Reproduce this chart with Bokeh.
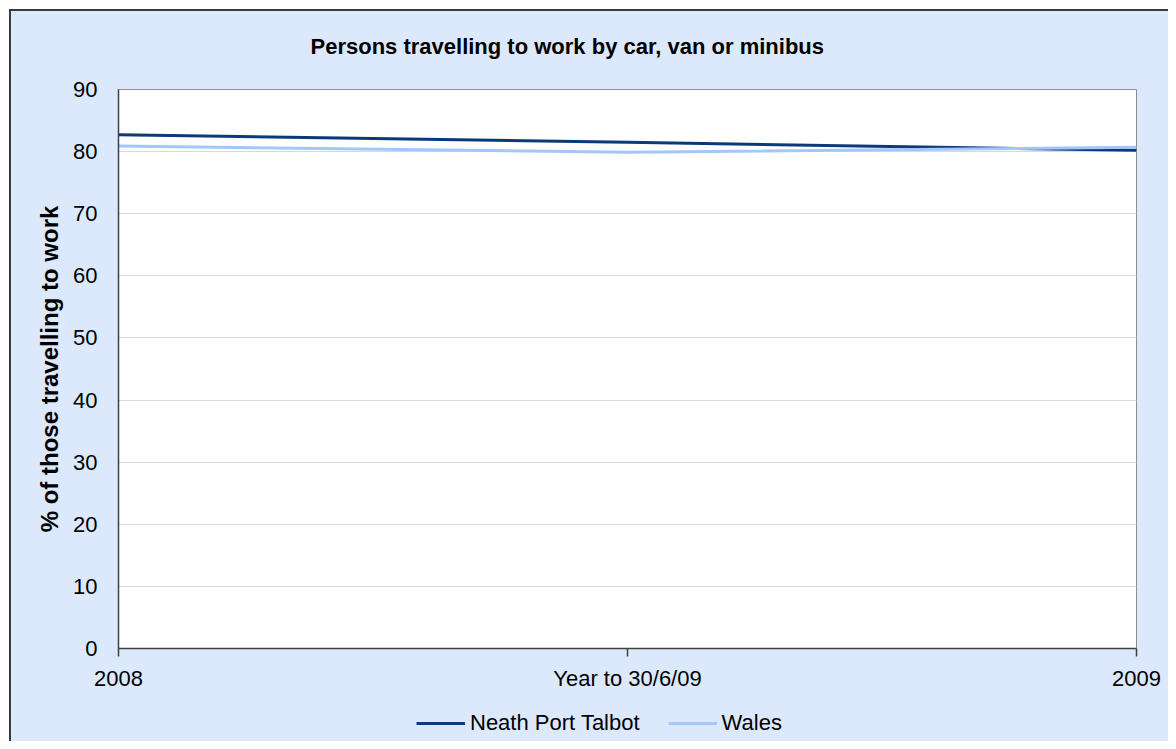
from bokeh.plotting import figure
from bokeh.models import Range1d, FixedTicker, Legend, LegendItem, Label
from bokeh.layouts import column
from bokeh.embed import file_html
from bokeh.resources import INLINE

categories = ["2008", "Year to 30/6/09", "2009"]
neath = [82.7, 81.5, 80.2]
wales = [80.9, 79.9, 80.7]
y_ticks = [0, 10, 20, 30, 40, 50, 60, 70, 80, 90]
series_names = ["Neath Port Talbot", "Wales"]
series_colors = ["#0b3a7a", "#a2c7fa"]
series_values = [neath, wales]

title_text = "Persons travelling to work by car, van or minibus"
y_label = "% of those travelling to work"

x = list(range(len(categories)))

BG = "#dce9fc"
FONT = "Liberation Sans"
W = 1157


def strip(height, xr, yr):
    f = figure(width=W, height=height, output_backend="svg", toolbar_location=None,
               x_axis_location=None, y_axis_location=None,
               x_range=Range1d(0, xr), y_range=Range1d(0, yr),
               min_border_left=0, min_border_right=0, min_border_top=0, min_border_bottom=0)
    f.background_fill_color = BG
    f.border_fill_color = BG
    f.outline_line_color = None
    f.xgrid.visible = False
    f.ygrid.visible = False
    return f


# title strip
tt = strip(64, 1018, 64)
tt.add_layout(Label(x=192, y=29, text=title_text, text_font=FONT, text_font_size="22px",
                    text_font_style="bold", text_color="#000000",
                    text_align="left", text_baseline="middle"))

# main chart
p = figure(width=W, height=618, output_backend="svg", toolbar_location=None,
           x_range=Range1d(0, len(categories) - 1), y_range=Range1d(0, 90),
           min_border_left=107, min_border_top=14, min_border_right=32, min_border_bottom=45)

p.background_fill_color = "white"
p.border_fill_color = BG
p.outline_line_color = "#8c8c8c"
p.outline_line_width = 1

p.xaxis.ticker = FixedTicker(ticks=x)
p.xaxis.major_label_overrides = {i: c for i, c in zip(x, categories)}
p.xaxis.major_tick_out = 8
p.xaxis.major_tick_in = 0
p.xaxis.minor_tick_out = 0
p.xaxis.minor_tick_in = 0
p.xaxis.major_label_standoff = 9
p.xaxis.axis_line_color = "#404040"
p.xaxis.axis_line_width = 1.5
p.xaxis.major_tick_line_color = "#404040"
p.xaxis.major_tick_line_width = 1.5

p.yaxis.ticker = FixedTicker(ticks=y_ticks)
p.yaxis.major_tick_out = 0
p.yaxis.major_tick_in = 0
p.yaxis.minor_tick_out = 0
p.yaxis.minor_tick_in = 0
p.yaxis.major_label_standoff = 21
p.yaxis.axis_line_color = "#404040"
p.yaxis.axis_line_width = 1.5
p.yaxis.axis_label = y_label
p.yaxis.axis_label_standoff = 7
p.yaxis.axis_label_text_font = FONT
p.yaxis.axis_label_text_font_size = "24px"
p.yaxis.axis_label_text_font_style = "bold"
p.yaxis.axis_label_text_color = "#000000"

for ax in (p.xaxis, p.yaxis):
    ax.major_label_text_font = FONT
    ax.major_label_text_font_size = "22px"
    ax.major_label_text_color = "#000000"

p.xgrid.grid_line_color = None
p.ygrid.ticker = FixedTicker(ticks=y_ticks)
p.ygrid.grid_line_color = "#d9d9d9"
p.ygrid.grid_line_width = 1

for vals, col in zip(series_values, series_colors):
    p.line(x, vals, line_color=col, line_width=3)

# legend strip below the chart (proxy lines fall outside its 0..1 range)
lg = strip(48, 1, 1)
items = []
for name, vals, col in zip(series_names, series_values, series_colors):
    rr = lg.line(x, vals, line_color=col, line_width=3)
    items.append(LegendItem(label=name, renderers=[rr]))

legend = Legend(items=items, orientation="horizontal", location=(298, 5),
                background_fill_alpha=0, border_line_alpha=0,
                glyph_width=49, glyph_height=20, label_standoff=5, spacing=28,
                padding=0, margin=0, label_height=20,
                label_text_font=FONT, label_text_font_size="22px", label_text_color="#000000")
lg.add_layout(legend, "center")

layout = column(tt, p, lg, spacing=0)
layout.styles = {"border-left": "2px solid #3a3a3a", "border-top": "2px solid #3a3a3a",
                 "margin-left": "9px", "margin-top": "9px", "background-color": BG}

open("out.html", "w").write(file_html(layout, INLINE))
